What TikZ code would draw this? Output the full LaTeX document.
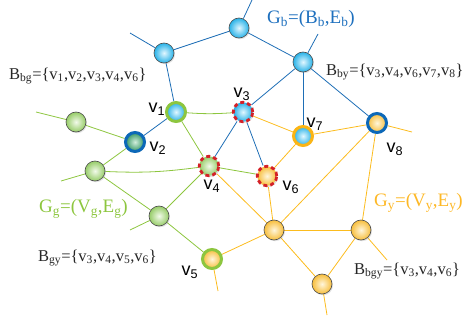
\documentclass[tikz,border=0pt]{standalone}
\usepackage{fontspec}
\setmainfont{Liberation Serif}
\newfontfamily\lsans{Liberation Sans}
\usetikzlibrary{shadows}
\pgfdeclarelayer{bg}
\pgfsetlayers{bg,main}
\definecolor{eblue}{RGB}{30,110,182}
\definecolor{egreen}{RGB}{141,198,63}
\definecolor{eyellow}{RGB}{252,188,30}
\definecolor{rblue}{RGB}{12,104,184}
\definecolor{rgreen}{RGB}{141,198,63}
\definecolor{rorange}{RGB}{251,181,21}
\definecolor{rred}{RGB}{212,32,39}
\definecolor{tblue}{RGB}{30,112,190}
\definecolor{tgreen}{RGB}{141,198,63}
\definecolor{torange}{RGB}{253,184,39}
\definecolor{bin}{RGB}{226,247,255}
\definecolor{bout}{RGB}{40,178,232}
\definecolor{gin}{RGB}{242,250,234}
\definecolor{gout}{RGB}{150,204,104}
\definecolor{yin}{RGB}{255,246,220}
\definecolor{yout}{RGB}{247,190,60}
\definecolor{din}{RGB}{210,238,220}
\definecolor{dout}{RGB}{52,150,100}
\newcommand\vs[1]{v\textsubscript{#1}}
\begin{document}
\begin{tikzpicture}[x=1pt,y=-1pt,
  ebl/.style={draw=eblue, line width=0.8pt},
  egr/.style={draw=egreen, line width=0.8pt},
  eye/.style={draw=eyellow, line width=0.8pt},
  shad/.style={drop shadow={shadow xshift=1pt, shadow yshift=-1.2pt, opacity=0.25}},
  ball/.style={circle, minimum size=20pt, inner sep=0pt, draw=black!70, line width=0.6pt, shad},
  bfill/.style={inner color=bin, outer color=bout},
  gfill/.style={inner color=gin, outer color=gout},
  yfill/.style={inner color=yin, outer color=yout},
  dfill/.style={inner color=din, outer color=dout},
  ring/.style={circle, minimum size=19pt, inner sep=0pt, line width=3pt, shad},
  rdash/.style={circle, minimum size=19.5pt, inner sep=0pt, line width=2.8pt, draw=rred, dash pattern=on 4pt off 3pt, shad},
  lab/.style={anchor=west, inner sep=0pt, font=\fontsize{16.5}{20}\selectfont, text=black!85},
  glab/.style={anchor=west, inner sep=0pt, font=\fontsize{19}{22}\selectfont},
  vlab/.style={inner sep=0pt, font=\lsans\fontsize{18}{20}\selectfont}
]
\useasboundingbox (0,0) rectangle (464,321);
% plain nodes
\node[ball,bfill] (b1) at (239,28) {};
\node[ball,bfill] (b2) at (164,53) {};
\node[ball,bfill] (b3) at (303,62) {};
\node[ball,gfill] (g1) at (76,122) {};
\node[ball,gfill] (g2) at (95,171) {};
\node[ball,gfill] (g3) at (159,216) {};
\node[ball,yfill] (y1) at (274,230) {};
\node[ball,yfill] (y2) at (361,230) {};
\node[ball,yfill] (y3) at (322,284) {};
% special vertices
\node[ring,draw=rgreen,bfill] (v1) at (176,112) {};
\node[ring,draw=rblue,dfill] (v2) at (135,142) {};
\node[rdash,bfill] (v3) at (243,112) {};
\node[rdash,gfill] (v4) at (209,166) {};
\node[ring,draw=rgreen,yfill] (v5) at (212,259) {};
\node[rdash,yfill] (v6) at (267,176) {};
\node[ring,draw=rorange,bfill] (v7) at (303,136) {};
\node[ring,draw=rblue,yfill] (v8) at (377,123) {};
% free ends
\coordinate (s1) at (252,0);
\coordinate (s2) at (130,33);
\coordinate (s3) at (318,34);
\coordinate (s4) at (36,112);
\coordinate (s5) at (61,181);
\coordinate (s6) at (130,230);
\coordinate (s7) at (218,291);
\coordinate (s8) at (327,315);
\coordinate (s9) at (387,260);
\coordinate (s10) at (412,132);
\begin{pgfonlayer}{bg}
% blue
\draw[ebl] (b1) -- (s1);
\draw[ebl] (b2) -- (s2);
\draw[ebl] (b3) -- (s3);
\draw[ebl] (b1) -- (b2);
\draw[ebl] (b1) -- (b3);
\draw[ebl] (b2) -- (v1);
\draw[ebl] (b3) -- (v3);
\draw[ebl] (b3) -- (v7);
\draw[ebl] (b3) -- (v8);
\draw[ebl] (v1) -- (v2);
\draw[ebl] (v3) -- (v4);
\draw[ebl] (v3) -- (v6);
% green
\draw[egr] (g1) -- (s4);
\draw[egr] (g2) -- (s5);
\draw[egr] (g3) -- (s6);
\draw[egr] (g1) -- (v2);
\draw[egr] (v2) -- (g2);
\draw[egr] (g2) to[bend right=5] (v4);
\draw[egr] (g2) -- (g3);
\draw[egr] (g3) -- (v4);
\draw[egr] (g3) -- (v5);
\draw[egr] (v1) to[bend right=4] (v3);
\draw[egr] (v1) -- (v4);
\draw[egr] (v4) -- (v6);
% yellow
\draw[eye] (v3) -- (v7);
\draw[eye] (v7) -- (v8);
\draw[eye] (v7) -- (v6);
\draw[eye] (v8) -- (y1);
\draw[eye] (v8) -- (y2);
\draw[eye] (v8) -- (s10);
\draw[eye] (v6) -- (y1);
\draw[eye] (v4) -- (y1);
\draw[eye] (v5) -- (y1);
\draw[eye] (v5) -- (s7);
\draw[eye] (y1) -- (y2);
\draw[eye] (y1) -- (y3);
\draw[eye] (y2) -- (y3);
\draw[eye] (y2) -- (s9);
\draw[eye] (y3) -- (s8);
\end{pgfonlayer}
% labels
\node[glab,text=tblue] (tgb) at (267,19) {G\textsubscript{b}=(B\textsubscript{b},E\textsubscript{b})};
\node[glab,text=tgreen] (tgg) at (39,209) {G\textsubscript{g}=(V\textsubscript{g},E\textsubscript{g})};
\node[glab,text=torange] (tgy) at (374,203) {G\textsubscript{y}=(V\textsubscript{y},E\textsubscript{y})};
\node[lab] (tbg) at (9,76) {B\textsubscript{bg}=\{\vs1,\vs2,\vs3,\vs4,\vs6\}};
\node[lab] (tby) at (326,72) {B\textsubscript{by}=\{\vs3,\vs4,\vs6,\vs7,\vs8\}};
\node[lab] (tgy2) at (38,258) {B\textsubscript{gy}=\{\vs3,\vs4,\vs5,\vs6\}};
\node[lab] (tbgy) at (354,271) {B\textsubscript{bgy}=\{\vs3,\vs4,\vs6\}};
\node[vlab] (l1) at (157,109) {\vs1};
\node[vlab] (l2) at (158,148) {\vs2};
\node[vlab] (l3) at (242,94) {\vs3};
\node[vlab] (l4) at (212,186) {\vs4};
\node[vlab] (l5) at (190,272) {\vs5};
\node[vlab] (l6) at (291,187) {\vs6};
\node[vlab] (l7) at (315,124) {\vs7};
\node[vlab] (l8) at (395,149) {\vs8};
\end{tikzpicture}
\end{document}
